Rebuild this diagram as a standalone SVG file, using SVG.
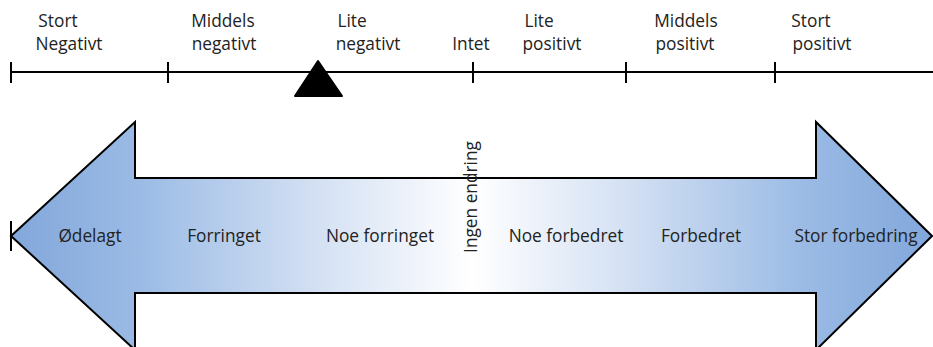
<svg xmlns="http://www.w3.org/2000/svg" width="933" height="347" viewBox="0 0 933 347">
  <style>
    .lbl { font-family: "Open Sans", "Noto Sans", "Liberation Sans", sans-serif; font-size: 17.3px; fill: #222222; }
    .mid { text-anchor: middle; }
    .ln { stroke: #000; stroke-width: 2; fill: none; }
  </style>
  <defs>
    <linearGradient id="grad" gradientUnits="userSpaceOnUse" x1="11" y1="0" x2="932" y2="0">
      <stop offset="0" stop-color="#82a7db"/>
      <stop offset="0.14" stop-color="#9bbbe5"/>
      <stop offset="0.33" stop-color="#d3e0f3"/>
      <stop offset="0.5" stop-color="#ffffff"/>
      <stop offset="0.67" stop-color="#d3e0f3"/>
      <stop offset="0.86" stop-color="#9bbbe5"/>
      <stop offset="1" stop-color="#82a7db"/>
    </linearGradient>
  </defs>

  <g id="scale">
    <line class="ln" x1="11" y1="72" x2="933" y2="72"/>
    <line class="ln" x1="11" y1="62" x2="11" y2="83"/>
    <line class="ln" x1="168" y1="62" x2="168" y2="83"/>
    <line class="ln" x1="473" y1="62" x2="473" y2="83"/>
    <line class="ln" x1="626" y1="62" x2="626" y2="83"/>
    <line class="ln" x1="775" y1="62" x2="775" y2="83"/>
  </g>

  <g id="marker">
    <path d="M318,61 L342,96 L295,96 Z" fill="#000" stroke="#000" stroke-width="2" stroke-linejoin="round"/>
  </g>

  <g id="scale-labels">
    <text class="lbl mid" x="58" y="27">Stort</text>
    <text class="lbl mid" x="69" y="50">Negativt</text>
    <text class="lbl mid" x="223" y="27">Middels</text>
    <text class="lbl mid" x="224" y="50">negativt</text>
    <text class="lbl mid" x="352" y="27">Lite</text>
    <text class="lbl mid" x="368" y="50">negativt</text>
    <text class="lbl mid" x="471" y="50">Intet</text>
    <text class="lbl mid" x="539" y="27">Lite</text>
    <text class="lbl mid" x="552" y="50">positivt</text>
    <text class="lbl mid" x="686" y="27">Middels</text>
    <text class="lbl mid" x="685" y="50">positivt</text>
    <text class="lbl mid" x="811" y="27">Stort</text>
    <text class="lbl mid" x="822" y="50">positivt</text>
  </g>

  <g id="arrow">
    <polygon points="11,236 135,122 135,178 816,178 816,122 932,236 816,350 816,293 135,293 135,350" fill="url(#grad)" stroke="#000" stroke-width="2" stroke-linejoin="miter"/>
    <line class="ln" x1="11" y1="221" x2="11" y2="251"/>
  </g>

  <g id="arrow-labels">
    <text class="lbl mid" x="90" y="242">Ødelagt</text>
    <text class="lbl mid" x="224" y="242">Forringet</text>
    <text class="lbl mid" x="380" y="242">Noe forringet</text>
    <text class="lbl mid" x="566" y="242">Noe forbedret</text>
    <text class="lbl mid" x="701" y="242">Forbedret</text>
    <text class="lbl mid" x="856" y="242">Stor forbedring</text>
    <text class="lbl mid" transform="translate(477,197) rotate(-90)" x="0" y="0">Ingen endring</text>
  </g>
</svg>
